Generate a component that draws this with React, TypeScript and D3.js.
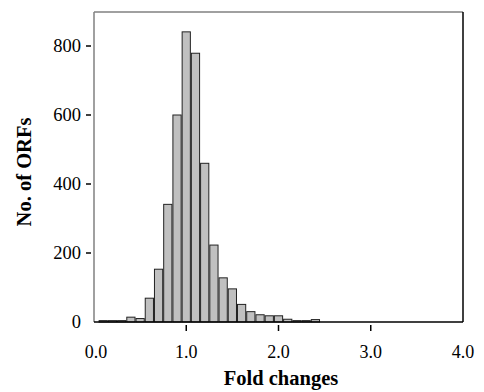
import React from "react";
import * as d3 from "d3";

const binCenters = [0.1, 0.2, 0.3, 0.4, 0.5, 0.6, 0.7, 0.8, 0.9, 1.0, 1.1, 1.2, 1.3, 1.4, 1.5, 1.6, 1.7, 1.8, 1.9, 2.0, 2.1, 2.2, 2.3, 2.4];
const counts = [4, 4, 4, 14, 10, 69, 153, 341, 600, 841, 779, 460, 223, 128, 96, 51, 30, 21, 18, 18, 8, 4, 4, 7];
const xTicks = [0, 1, 2, 3, 4];
const yTicks = [0, 200, 400, 600, 800];
const xLabel = "Fold changes";
const yLabel = "No. of ORFs";

const W = 484, H = 392;
const L = 94, R = 463, T = 12, B = 322;

export default function App() {
  const x = d3.scaleLinear().domain([0, 4]).range([L, R]);
  const y = d3.scaleLinear().domain([0, 800]).range([B, 46]);
  const bw = x(0.1) - x(0);
  const font = "'Liberation Serif', 'Times New Roman', serif";
  return (
    <svg width={W} height={H} style={{ position: "absolute", left: 0, top: 0 }} fontFamily={font}>
      <rect x={0} y={0} width={W} height={H} fill="#fff" />
      {binCenters.map((c, i) => (
        <rect key={i} x={x(c) - bw / 2 + 0.5} y={y(counts[i])} width={bw - 1} height={B - y(counts[i])}
          fill="#c0c0c0" stroke="#222" strokeWidth={1} />
      ))}
      {/* frame */}
      <line x1={L} y1={T} x2={R} y2={T} stroke="#808080" strokeWidth={1.5} />
      <line x1={L} y1={T} x2={L} y2={B} stroke="#808080" strokeWidth={1.5} />
      <line x1={R} y1={T} x2={R} y2={B} stroke="#000" strokeWidth={1.5} />
      <line x1={L} y1={B} x2={R} y2={B} stroke="#000" strokeWidth={1.5} />
      {yTicks.map((t) => (
        <g key={t}>
          {t > 0 && <line x1={86} x2={91} y1={y(t)} y2={y(t)} stroke="#000" strokeWidth={1.5} />}
          <text x={81} y={y(t)} dy="0.35em" textAnchor="end" fontSize={18.5}>{t}</text>
        </g>
      ))}
      {xTicks.map((t) => (
        <g key={t}>
          {t > 0 && t < 4 && <line x1={x(t)} x2={x(t)} y1={325} y2={331} stroke="#000" strokeWidth={1.5} />}
          <text x={x(t) + (t === 0 ? 2 : 0)} y={358} textAnchor="middle" fontSize={18}>{t.toFixed(1)}</text>
        </g>
      ))}
      <text x={281} y={385} textAnchor="middle" fontSize={20.5} fontWeight="bold">{xLabel}</text>
      <text transform={`translate(31,${(T + B) / 2 + 5}) rotate(-90)`} textAnchor="middle" fontSize={20.5} fontWeight="bold">{yLabel}</text>
    </svg>
  );
}
